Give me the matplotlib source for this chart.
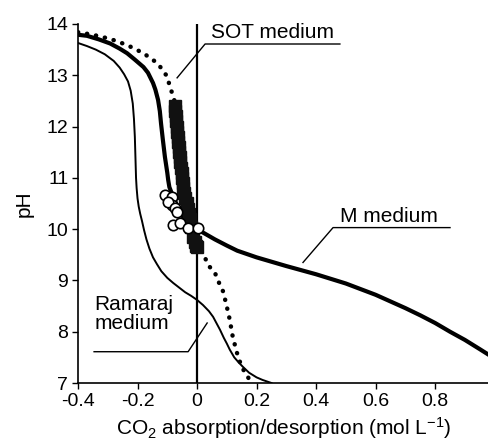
import matplotlib
matplotlib.use("Agg")
import matplotlib.pyplot as plt

plt.rcParams['font.family'] = ['Liberation Sans', 'DejaVu Sans']
plt.rcParams['mathtext.fontset'] = 'custom'
plt.rcParams['mathtext.rm'] = 'Liberation Sans'
plt.rcParams['mathtext.default'] = 'regular'

# ---- data ----
ramaraj_x = [-0.40, -0.37, -0.34, -0.31, -0.28, -0.26, -0.245, -0.232, -0.223, -0.216,
             -0.212, -0.209, -0.207, -0.205, -0.203, -0.200, -0.196, -0.191, -0.185,
             -0.178, -0.170, -0.160, -0.148, -0.135, -0.120, -0.10, -0.08, -0.06,
             -0.04, -0.02, 0.0, 0.02, 0.04, 0.054, 0.065, 0.077, 0.09, 0.10, 0.11,
             0.125, 0.14, 0.155, 0.175, 0.20, 0.22, 0.25]
ramaraj_ph = [13.63, 13.57, 13.50, 13.41, 13.28, 13.15, 13.02, 12.88, 12.70, 12.45,
              12.15, 11.80, 11.40, 11.00, 10.80, 10.60, 10.44, 10.30, 10.16,
              9.98, 9.80, 9.62, 9.45, 9.32, 9.18, 9.05, 8.95, 8.86,
              8.77, 8.70, 8.62, 8.52, 8.40, 8.29, 8.17, 8.04, 7.88, 7.77, 7.65,
              7.50, 7.40, 7.31, 7.20, 7.11, 7.06, 7.00]

m_x = [-0.40, -0.37, -0.33, -0.292, -0.26, -0.235, -0.21, -0.18, -0.165, -0.148,
       -0.14, -0.131, -0.125, -0.121, -0.115, -0.108, -0.10, -0.097, -0.093, -0.085,
       -0.08, -0.07, -0.06, -0.045, -0.03, -0.015, 0.0, 0.03, 0.06, 0.10, 0.135,
       0.20, 0.30, 0.40, 0.50, 0.60, 0.70, 0.75, 0.80, 0.85, 0.90, 0.95, 0.98]
m_ph = [13.79, 13.77, 13.70, 13.62, 13.52, 13.43, 13.31, 13.16, 13.05, 12.85,
        12.72, 12.52, 12.30, 12.06, 11.75, 11.41, 11.10, 10.96, 10.82, 10.70,
        10.63, 10.50, 10.38, 10.22, 10.10, 10.04, 10.00, 9.90, 9.80, 9.68, 9.58,
        9.45, 9.28, 9.12, 8.94, 8.72, 8.46, 8.32, 8.17, 8.00, 7.84, 7.66, 7.55]

sot_x = [-0.40, -0.35, -0.292, -0.235, -0.18, -0.134, -0.115, -0.10, -0.09, -0.08,
         -0.074, -0.05, -0.02, 0.0, 0.02, 0.037, 0.06, 0.077, 0.088, 0.104, 0.110,
         0.120, 0.134, 0.150, 0.171, 0.18]
sot_ph = [13.84, 13.79, 13.71, 13.59, 13.43, 13.24, 13.10, 12.97, 12.75, 12.60,
          12.45, 11.20, 10.20, 9.65, 9.54, 9.30, 9.15, 8.91, 8.78, 8.39, 8.23,
          7.90, 7.59, 7.31, 7.12, 7.00]

sq_x = [-0.075, -0.074, -0.072, -0.070, -0.068, -0.066, -0.065, -0.063, -0.062, -0.060,
        -0.058, -0.056, -0.054, -0.052, -0.050, -0.048, -0.046, -0.043, -0.040, -0.035,
        -0.032, -0.028, -0.024, -0.019, -0.013, -0.007, -0.003, 0.0]
sq_ph = [12.40, 12.30, 12.20, 12.10, 12.00, 11.90, 11.80, 11.70, 11.60, 11.50,
         11.40, 11.30, 11.20, 11.10, 11.00, 10.90, 10.80, 10.70, 10.60, 10.50,
         10.40, 10.30, 10.20, 10.05, 9.85, 9.75, 9.68, 9.65]

circ_x = [-0.108, -0.084, -0.084, -0.097, -0.074, -0.067, -0.081, -0.057, -0.030, 0.003]
circ_ph = [10.67, 10.63, 10.47, 10.53, 10.41, 10.34, 10.08, 10.12, 10.02, 10.02]

xticks = [-0.4, -0.2, 0, 0.2, 0.4, 0.6, 0.8]
xticklabels = ['-0.4', '-0.2', '0', '0.2', '0.4', '0.6', '0.8']
yticks = [7, 8, 9, 10, 11, 12, 13, 14]

fig = plt.figure(figsize=(4.89, 4.40), dpi=100)
ax = fig.add_axes([78 / 489, 57 / 440, 411 / 489, 359 / 440])

ax.axvline(0, color='black', lw=1.6, zorder=2)
ax.plot(ramaraj_x, ramaraj_ph, color='black', lw=1.4, zorder=3)
ax.plot(sot_x, sot_ph, color='black', lw=3.2, linestyle=(0, (0.05, 2.0)),
        dash_capstyle='round', zorder=3)
ax.plot(m_x, m_ph, color='black', lw=3.0, zorder=4)
ax.plot(sq_x, sq_ph, linestyle='none', marker='s', markersize=8,
        color='#111111', markeredgecolor='#111111', zorder=5)
ax.plot(circ_x, circ_ph, linestyle='none', marker='o', markersize=7.5,
        markerfacecolor='white', markeredgecolor='black', markeredgewidth=1.2, zorder=6)

# annotations
ax.plot([-0.067, 0.027, 0.48], [12.95, 13.61, 13.61], color='black', lw=1.0, clip_on=False)
ax.text(0.047, 13.73, 'SOT medium', fontsize=15, ha='left', va='baseline')

ax.plot([0.356, 0.457, 0.85], [9.35, 10.03, 10.03], color='black', lw=1.0)
ax.text(0.48, 10.13, 'M medium', fontsize=15, ha='left', va='baseline')

ax.plot([-0.346, -0.03, 0.034], [7.61, 7.61, 8.17], color='black', lw=1.0)
ax.text(-0.346, 8.72, 'Ramaraj\nmedium', fontsize=15, ha='left', va='top', linespacing=1.0)

ax.set_xlim(-0.4, 0.981)
ax.set_ylim(7, 14)
ax.set_xticks(xticks)
ax.set_xticklabels(xticklabels)
ax.set_yticks(yticks)
ax.tick_params(axis='both', labelsize=14, length=4, width=1.0, direction='out', pad=3)
for s in ['top', 'right']:
    ax.spines[s].set_visible(False)
for s in ['left', 'bottom']:
    ax.spines[s].set_linewidth(1.2)

ax.set_xlabel(r'CO$_2$ absorption/desorption (mol L$^{-1}$)', fontsize=15, labelpad=4)
ax.set_ylabel('pH', fontsize=15, labelpad=9)

fig.savefig('out.png', dpi=100)
